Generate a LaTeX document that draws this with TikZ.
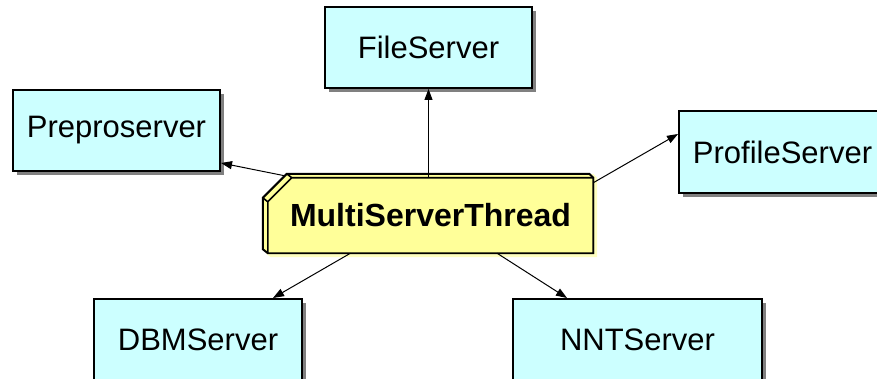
\documentclass[tikz,border=0pt]{standalone}
\usepackage{fontspec}
\setmainfont{Liberation Sans}
\usetikzlibrary{arrows.meta,shadows,backgrounds,calc}
\definecolor{srvfill}{HTML}{CCFFFF}
\definecolor{thrfill}{HTML}{FFFF99}
\definecolor{thrshade}{HTML}{FFFFC0}

\begin{document}
\begin{tikzpicture}[x=1pt,y=1pt,
	srv/.style={draw,line width=2pt,fill=srvfill,minimum width=207pt,minimum height=81pt,inner sep=0pt,
		font=\fontsize{31}{36}\selectfont,
		drop shadow={shadow xshift=4pt,shadow yshift=-4pt,fill=black!50,opacity=1}},
	thr/.style={minimum width=325pt,minimum height=75pt,inner sep=0pt,font=\fontsize{32}{36}\selectfont\bfseries},
	bevel/.style={draw,line width=2pt,fill=thrfill},
	conn/.style={line width=1pt,-{Triangle[length=11pt,width=8pt]}}]
\useasboundingbox (0,0) rectangle (877,379);
\node[srv] (file) at (428.5,331.5) {FileServer};
\node[srv] (pre) at (116.5,248.5) {Preproserver};
\node[srv,minimum height=82pt] (prof) at (782.5,227) {ProfileServer};
\node[srv,minimum width=208pt] (dbm) at (198,39.5) {DBMServer};
\node[srv,minimum width=249pt] (nnt) at (637.5,39.5) {NNTServer};
\node[thr] (mst) at (430.5,163.5) {MultiServerThread};
\begin{scope}[on background layer]
	\fill[thrshade] ($(mst.south west)+(-2,0)$) -- ($(mst.north west)+(-2,-20)$) -- ($(mst.north west)+(22,4)$)
		-- ($(mst.north east)+(0,4)$) -- ($(mst.north east)+(4,0)$) -- ($(mst.south east)+(4,-4)$) -- ($(mst.south west)+(3,-4)$) -- cycle;
	\draw[bevel] ($(mst.south west)+(-5,4)$) -- ($(mst.north west)+(-5,-20)$) -- ($(mst.north west)+(19,4)$)
		-- ($(mst.north east)+(-4,4)$) -- (mst.north east) -- (mst.south east) -- (mst.south west) -- cycle;
	\draw[bevel,line width=1.6pt] ($(mst.north west)+(0,-24)$) -- ($(mst.north west)+(24,0)$)
		-- (mst.north east) -- (mst.south east) -- (mst.south west) -- cycle;
	\draw[line width=1.6pt] ($(mst.north west)+(-5,-20)$) -- ($(mst.north west)+(0,-24)$);
	\draw[line width=1.6pt] ($(mst.north west)+(19,4)$) -- ($(mst.north west)+(24,0)$);
\end{scope}
\draw[conn] (mst.north -| file.south) -- (file.south);
\draw[conn] ($(mst.north west)+(17,2)$) -- ([yshift=9pt]pre.south east);
\draw[conn] ([yshift=-5pt]mst.north east) -- ([yshift=18pt]prof.west);
\draw[conn] ([xshift=-80pt]mst.south) -- ([xshift=75pt]dbm.north);
\draw[conn] ([xshift=66.5pt]mst.south) -- ([xshift=-70.5pt]nnt.north);
\end{tikzpicture}
\end{document}
